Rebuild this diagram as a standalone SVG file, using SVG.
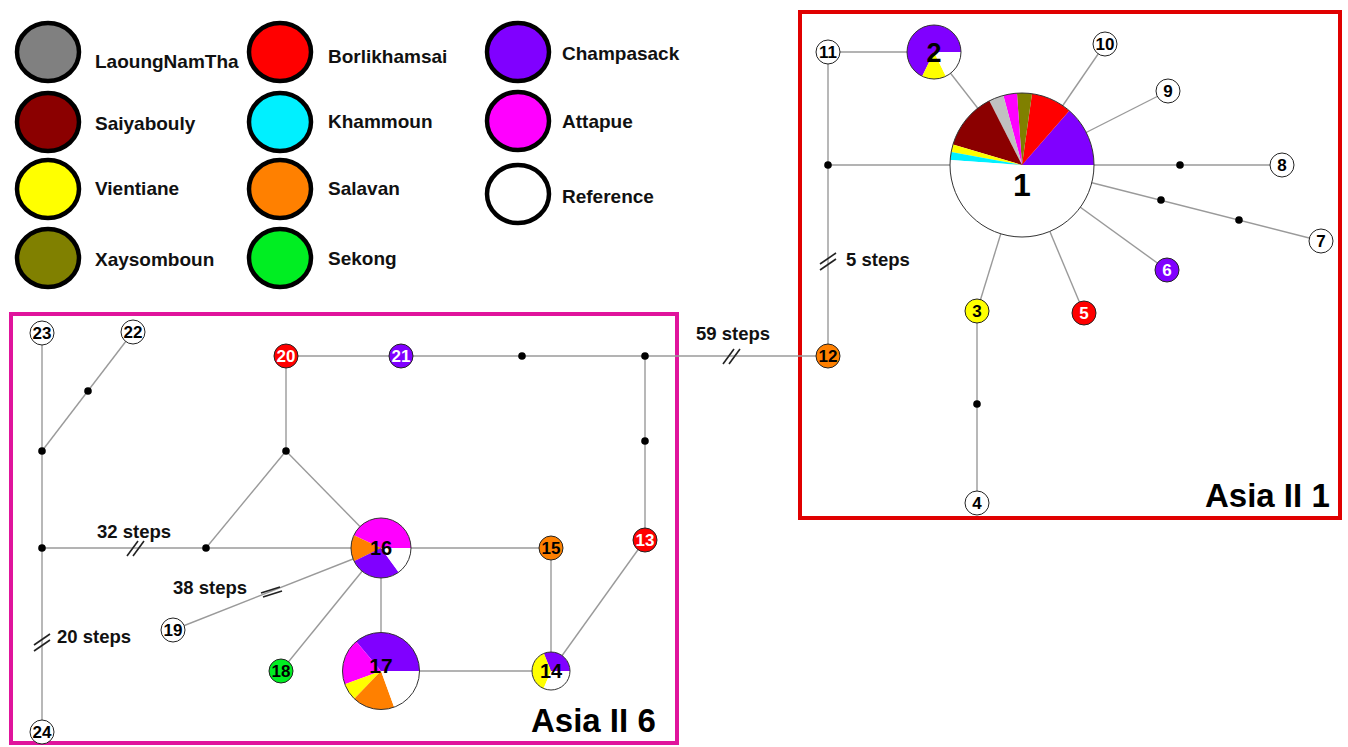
<svg xmlns="http://www.w3.org/2000/svg" width="1348" height="747" viewBox="0 0 1348 747">
<style>
.lg{stroke:#000;stroke-width:4.5}
.lt{font-family:"Liberation Sans",Arial,sans-serif;font-weight:bold;font-size:19px;fill:#111}
.st{font-family:"Liberation Sans",Arial,sans-serif;font-weight:bold;font-size:18.5px;fill:#111}
.ed{stroke:#9a9a9a;stroke-width:1.4;fill:none}
.br{stroke:#222;stroke-width:1.6}
.dot{fill:#000}
.n{stroke:#222;stroke-width:1}
.nl{font-family:"Liberation Sans",Arial,sans-serif;font-weight:bold;font-size:17px;text-anchor:middle;fill:#000}
.nw{fill:#fff}
.pl{font-family:"Liberation Sans",Arial,sans-serif;font-weight:bold;text-anchor:middle;fill:#000}
.box{font-family:"Liberation Sans",Arial,sans-serif;font-weight:bold;font-size:33px;fill:#000}
.po{fill:none;stroke:#333;stroke-width:1}
</style>
<rect width="1348" height="747" fill="#fff"/>

<g id="legend">
<ellipse class="lg" cx="48" cy="52" rx="31" ry="29" fill="#808080"/>
<text class="lt" x="95" y="68">LaoungNamTha</text>
<ellipse class="lg" cx="48" cy="122" rx="31" ry="29" fill="#8b0000"/>
<text class="lt" x="95" y="130">Saiyabouly</text>
<ellipse class="lg" cx="48" cy="189" rx="31" ry="29" fill="#ffff00"/>
<text class="lt" x="95" y="195">Vientiane</text>
<ellipse class="lg" cx="48" cy="258" rx="31" ry="29" fill="#808000"/>
<text class="lt" x="95" y="266">Xaysomboun</text>
<ellipse class="lg" cx="280" cy="52" rx="31" ry="29" fill="#ff0000"/>
<text class="lt" x="328" y="63">Borlikhamsai</text>
<ellipse class="lg" cx="280" cy="122" rx="31" ry="29" fill="#00f0ff"/>
<text class="lt" x="328" y="128">Khammoun</text>
<ellipse class="lg" cx="280" cy="189" rx="31" ry="29" fill="#ff8000"/>
<text class="lt" x="328" y="195">Salavan</text>
<ellipse class="lg" cx="280" cy="258" rx="31" ry="29" fill="#00ee22"/>
<text class="lt" x="328" y="265">Sekong</text>
<ellipse class="lg" cx="518" cy="52" rx="31" ry="29" fill="#8000ff"/>
<text class="lt" x="562" y="60">Champasack</text>
<ellipse class="lg" cx="518" cy="121" rx="31" ry="29" fill="#ff00ff"/>
<text class="lt" x="562" y="128">Attapue</text>
<ellipse class="lg" cx="518" cy="194" rx="31" ry="29" fill="#ffffff"/>
<text class="lt" x="562" y="203">Reference</text>
</g>

<g id="groups">
<rect x="800" y="12" width="540" height="506" fill="none" stroke="#e00000" stroke-width="4"/>
<text class="box" x="1205" y="507">Asia II 1</text>
<rect x="11" y="314" width="666" height="429" fill="none" stroke="#e0149c" stroke-width="4"/>
<text class="box" x="531" y="732">Asia II 6</text>
</g>

<g id="connectors">
<line class="ed" x1="828" y1="52" x2="934" y2="52"/>
<line class="ed" x1="828" y1="52" x2="828" y2="356"/>
<line class="ed" x1="828" y1="165" x2="1022" y2="165"/>
<line class="ed" x1="934" y1="52" x2="1022" y2="165"/>
<line class="ed" x1="1105" y1="44" x2="1022" y2="165"/>
<line class="ed" x1="1168" y1="91" x2="1022" y2="165"/>
<line class="ed" x1="1022" y1="165" x2="1282" y2="165"/>
<line class="ed" x1="1022" y1="165" x2="1321" y2="241"/>
<line class="ed" x1="1022" y1="165" x2="1167" y2="270"/>
<line class="ed" x1="1022" y1="165" x2="1084" y2="313"/>
<line class="ed" x1="1022" y1="165" x2="977" y2="311"/>
<line class="ed" x1="977" y1="311" x2="977" y2="503"/>
<line class="ed" x1="286" y1="356" x2="828" y2="356"/>
<line class="ed" x1="42" y1="333" x2="42" y2="732"/>
<line class="ed" x1="42" y1="451" x2="133" y2="332"/>
<line class="ed" x1="42" y1="548" x2="551" y2="548"/>
<line class="ed" x1="206" y1="548" x2="286" y2="451"/>
<line class="ed" x1="286" y1="451" x2="381" y2="548"/>
<line class="ed" x1="286" y1="451" x2="286" y2="356"/>
<line class="ed" x1="645" y1="356" x2="645" y2="540"/>
<line class="ed" x1="645" y1="540" x2="551" y2="671"/>
<line class="ed" x1="551" y1="548" x2="551" y2="671"/>
<line class="ed" x1="381" y1="548" x2="381" y2="671"/>
<line class="ed" x1="381" y1="671" x2="551" y2="671"/>
<line class="ed" x1="381" y1="548" x2="173" y2="630"/>
<line class="ed" x1="381" y1="548" x2="281" y2="671"/>
<g id="breaks">
<line class="br" x1="820" y1="264" x2="836" y2="253"/>
<line class="br" x1="820" y1="270" x2="836" y2="259"/>
<line class="br" x1="723" y1="364" x2="734" y2="349"/>
<line class="br" x1="729" y1="364" x2="740" y2="349"/>
<line class="br" x1="127" y1="556" x2="138" y2="541"/>
<line class="br" x1="133" y1="556" x2="144" y2="541"/>
<line class="br" x1="34" y1="645" x2="50" y2="634"/>
<line class="br" x1="34" y1="651" x2="50" y2="640"/>
<line class="br" x1="261" y1="593" x2="280" y2="587"/>
<line class="br" x1="263" y1="597" x2="282" y2="591"/>
</g>
<g id="labels">
<text class="st" x="846" y="266">5 steps</text>
<text class="st" x="696" y="340">59 steps</text>
<text class="st" x="97" y="538">32 steps</text>
<text class="st" x="173" y="594">38 steps</text>
<text class="st" x="57" y="643">20 steps</text>
</g>
<g id="dots">
<circle class="dot" cx="828" cy="165" r="3.8"/>
<circle class="dot" cx="1180" cy="165" r="3.8"/>
<circle class="dot" cx="1161" cy="200" r="3.8"/>
<circle class="dot" cx="1239" cy="220" r="3.8"/>
<circle class="dot" cx="977" cy="404" r="3.8"/>
<circle class="dot" cx="88" cy="391" r="3.8"/>
<circle class="dot" cx="42" cy="451" r="3.8"/>
<circle class="dot" cx="286" cy="451" r="3.8"/>
<circle class="dot" cx="42" cy="548" r="3.8"/>
<circle class="dot" cx="206" cy="548" r="3.8"/>
<circle class="dot" cx="522" cy="356" r="3.8"/>
<circle class="dot" cx="645" cy="356" r="3.8"/>
<circle class="dot" cx="645" cy="441" r="3.8"/>
</g>
</g>

<g id="node1">
<path d="M1022,165 L1094,165 A72,72 0 0 0 1069.24,110.66 Z" fill="#8000ff"/>
<path d="M1022,165 L1069.24,110.66 A72,72 0 0 0 1032.02,93.70 Z" fill="#ff0000"/>
<path d="M1022,165 L1032.02,93.70 A72,72 0 0 0 1016.98,93.17 Z" fill="#808000"/>
<path d="M1022,165 L1016.98,93.17 A72,72 0 0 0 1003.37,95.45 Z" fill="#ff00ff"/>
<path d="M1022,165 L1003.37,95.45 A72,72 0 0 0 989.31,100.85 Z" fill="#c0c0c0"/>
<path d="M1022,165 L989.31,100.85 A72,72 0 0 0 952.97,144.55 Z" fill="#8b0000"/>
<path d="M1022,165 L952.97,144.55 A72,72 0 0 0 951.20,151.88 Z" fill="#ffff00"/>
<path d="M1022,165 L951.20,151.88 A72,72 0 0 0 950.17,159.98 Z" fill="#00f0ff"/>
<path d="M1022,165 L950.17,159.98 A72,72 0 1 0 1094,165 Z" fill="#ffffff"/>
<circle class="po" cx="1022" cy="165" r="72"/>
<text class="pl" x="1022" y="196" font-size="32">1</text>
</g>
<g id="node2">
<path d="M934,52 L961,52 A27,27 0 1 0 922.16,76.27 Z" fill="#8000ff"/>
<path d="M934,52 L922.16,76.27 A27,27 0 0 0 945.84,76.27 Z" fill="#ffff00"/>
<path d="M934,52 L945.84,76.27 A27,27 0 0 0 961,52 Z" fill="#ffffff"/>
<circle class="po" cx="934" cy="52" r="27"/>
<text class="pl" x="934" y="62" font-size="27">2</text>
</g>
<g id="node3"><circle class="n" cx="977" cy="311" r="12" fill="#ffff00"/><text class="nl" x="977" y="317">3</text></g>
<g id="node4"><circle class="n" cx="977" cy="503" r="12" fill="#fff"/><text class="nl" x="977" y="509">4</text></g>
<g id="node5"><circle class="n" cx="1084" cy="313" r="12" fill="#ff0000"/><text class="nl nw" x="1084" y="319">5</text></g>
<g id="node6"><circle class="n" cx="1167" cy="270" r="12" fill="#8000ff"/><text class="nl nw" x="1167" y="276">6</text></g>
<g id="node7"><circle class="n" cx="1321" cy="241" r="12" fill="#fff"/><text class="nl" x="1321" y="247">7</text></g>
<g id="node8"><circle class="n" cx="1282" cy="165" r="12" fill="#fff"/><text class="nl" x="1282" y="171">8</text></g>
<g id="node9"><circle class="n" cx="1168" cy="91" r="12" fill="#fff"/><text class="nl" x="1168" y="97">9</text></g>
<g id="node10"><circle class="n" cx="1105" cy="44" r="12" fill="#fff"/><text class="nl" x="1105" y="50">10</text></g>
<g id="node11"><circle class="n" cx="828" cy="52" r="12" fill="#fff"/><text class="nl" x="828" y="58">11</text></g>
<g id="node12"><circle class="n" cx="828" cy="356" r="12" fill="#ff8000"/><text class="nl" x="828" y="362">12</text></g>
<g id="node13"><circle class="n" cx="645" cy="540" r="12" fill="#ff0000"/><text class="nl nw" x="645" y="546">13</text></g>
<g id="node14">
<path d="M551,671 L570,671 A19,19 0 0 0 543.88,653.38 Z" fill="#8000ff"/>
<path d="M551,671 L543.88,653.38 A19,19 0 0 0 543.58,688.49 Z" fill="#ffff00"/>
<path d="M551,671 L543.58,688.49 A19,19 0 0 0 570,671 Z" fill="#ffffff"/>
<circle class="po" cx="551" cy="671" r="19"/>
<text class="pl" x="551" y="678" font-size="20">14</text>
</g>
<g id="node15"><circle class="n" cx="551" cy="548" r="12" fill="#ff8000"/><text class="nl" x="551" y="554">15</text></g>
<g id="node16">
<path d="M381,548 L411,548 A30,30 0 0 0 353.81,535.32 Z" fill="#ff00ff"/>
<path d="M381,548 L353.81,535.32 A30,30 0 0 0 354.04,561.15 Z" fill="#ff8000"/>
<path d="M381,548 L354.04,561.15 A30,30 0 0 0 398.63,572.27 Z" fill="#8000ff"/>
<path d="M381,548 L398.63,572.27 A30,30 0 0 0 411,548 Z" fill="#ffffff"/>
<circle class="po" cx="381" cy="548" r="30"/>
<text class="pl" x="381" y="555" font-size="20">16</text>
</g>
<g id="node17">
<path d="M381,671 L419.5,671 A38.5,38.5 0 0 0 356.25,641.51 Z" fill="#8000ff"/>
<path d="M381,671 L356.25,641.51 A38.5,38.5 0 0 0 344.82,684.17 Z" fill="#ff00ff"/>
<path d="M381,671 L344.82,684.17 A38.5,38.5 0 0 0 354.25,698.69 Z" fill="#ffff00"/>
<path d="M381,671 L354.25,698.69 A38.5,38.5 0 0 0 394.17,707.18 Z" fill="#ff8000"/>
<path d="M381,671 L394.17,707.18 A38.5,38.5 0 0 0 419.5,671 Z" fill="#ffffff"/>
<circle class="po" cx="381" cy="671" r="38.5"/>
<text class="pl" x="381" y="673" font-size="21">17</text>
</g>
<g id="node18"><circle class="n" cx="281" cy="671" r="12" fill="#00ee22"/><text class="nl" x="281" y="677">18</text></g>
<g id="node19"><circle class="n" cx="173" cy="630" r="12" fill="#fff"/><text class="nl" x="173" y="636">19</text></g>
<g id="node20"><circle class="n" cx="286" cy="356" r="12" fill="#ff0000"/><text class="nl nw" x="286" y="362">20</text></g>
<g id="node21"><circle class="n" cx="401" cy="356" r="12" fill="#8000ff"/><text class="nl nw" x="401" y="362">21</text></g>
<g id="node22"><circle class="n" cx="133" cy="332" r="12" fill="#fff"/><text class="nl" x="133" y="338">22</text></g>
<g id="node23"><circle class="n" cx="42" cy="333" r="12" fill="#fff"/><text class="nl" x="42" y="339">23</text></g>
<g id="node24"><circle class="n" cx="42" cy="732" r="12" fill="#fff"/><text class="nl" x="42" y="738">24</text></g>
</svg>
